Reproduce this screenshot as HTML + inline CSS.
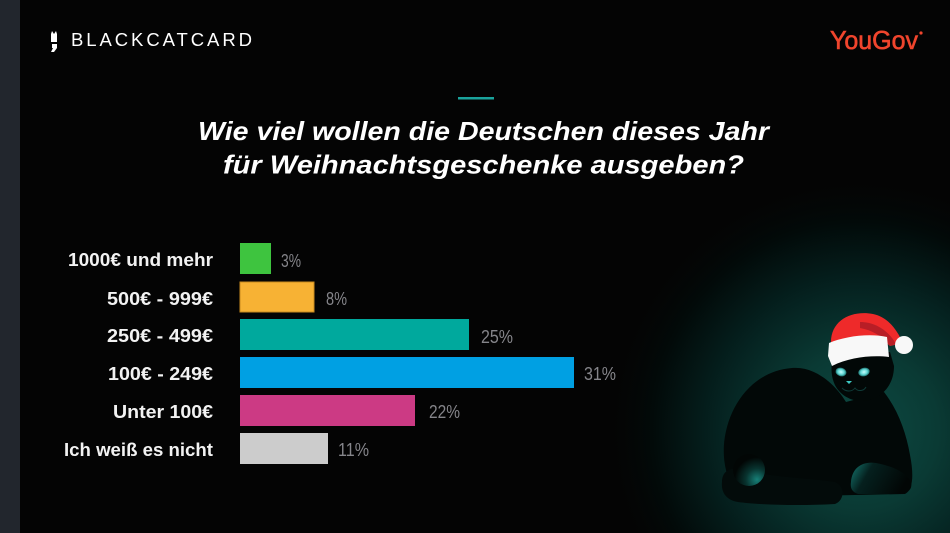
<!DOCTYPE html>
<html><head><meta charset="utf-8"><style>
html,body{margin:0;padding:0;background:#040404;}
svg{display:block;}
</style></head><body>
<svg width="950" height="533" viewBox="0 0 950 533" xmlns="http://www.w3.org/2000/svg">
<defs>
<radialGradient id="glow" cx="860" cy="430" r="260" gradientUnits="userSpaceOnUse">
<stop offset="0" stop-color="#0d4a43"/>
<stop offset="0.3" stop-color="#0a3a34"/>
<stop offset="0.55" stop-color="#052220"/>
<stop offset="0.8" stop-color="#020a09"/>
<stop offset="1" stop-color="#040404" stop-opacity="0"/>
</radialGradient>
<radialGradient id="eye" cx="0.5" cy="0.5" r="0.5">
<stop offset="0" stop-color="#c8ffff"/>
<stop offset="0.6" stop-color="#5fd6d3"/>
<stop offset="1" stop-color="#1a6b68"/>
</radialGradient>
<radialGradient id="tailg" cx="0.75" cy="0.8" r="0.7">
<stop offset="0" stop-color="#178078"/>
<stop offset="0.5" stop-color="#08332f"/>
<stop offset="1" stop-color="#020605"/>
</radialGradient>
<linearGradient id="pawg" x1="0" y1="0" x2="1" y2="0.3">
<stop offset="0" stop-color="#157a72"/>
<stop offset="0.35" stop-color="#05201e"/>
<stop offset="1" stop-color="#020605"/>
</linearGradient>
</defs>
<rect x="0" y="0" width="950" height="533" fill="#040404"/>
<rect x="0" y="0" width="950" height="533" fill="url(#glow)"/>
<rect x="0" y="0" width="20" height="533" fill="#22262d"/>

<!-- header -->
<g fill="#ffffff">
<rect x="51" y="34" width="6" height="8"/>
<polygon points="51,34 52,31 54,34"/>
<polygon points="54,34 56,31 57,34"/>
<path d="M52 44 L57 44 L57 48 L54 52 L51 52 L53 48 L52 48 Z"/>
</g>
<text x="71" y="46" font-family="Liberation Sans, sans-serif" font-size="18.5" fill="#ffffff" textLength="181" lengthAdjust="spacing">BLACKCATCARD</text>
<text x="830" y="49" font-family="Liberation Sans, sans-serif" font-size="26" fill="#f0452d" stroke="#f0452d" stroke-width="0.6" textLength="88" lengthAdjust="spacingAndGlyphs">YouGov</text>
<circle cx="921" cy="33" r="1.6" fill="#f0452d"/>

<!-- title -->
<rect x="458" y="97" width="36" height="2.5" fill="#1aa39c"/>
<g font-family="Liberation Sans, sans-serif" font-size="26" font-weight="bold" font-style="italic" fill="#ffffff">
<text x="198" y="140" textLength="571" lengthAdjust="spacingAndGlyphs">Wie viel wollen die Deutschen dieses Jahr</text>
<text x="223" y="173.5" textLength="521" lengthAdjust="spacingAndGlyphs">für Weihnachtsgeschenke ausgeben?</text>
</g>

<!-- labels -->
<g font-family="Liberation Sans, sans-serif" font-size="18" font-weight="bold" fill="#f2f2f2" text-anchor="end">
<text x="213" y="266" textLength="145" lengthAdjust="spacingAndGlyphs">1000€ und mehr</text>
<text x="213" y="305" textLength="106" lengthAdjust="spacingAndGlyphs">500€ - 999€</text>
<text x="213" y="342" textLength="106" lengthAdjust="spacingAndGlyphs">250€ - 499€</text>
<text x="213" y="380" textLength="105" lengthAdjust="spacingAndGlyphs">100€ - 249€</text>
<text x="213" y="418" textLength="100" lengthAdjust="spacingAndGlyphs">Unter 100€</text>
<text x="213" y="456" textLength="149" lengthAdjust="spacingAndGlyphs">Ich weiß es nicht</text>
</g>

<!-- bars -->
<rect x="240" y="243" width="31" height="31" fill="#3ec43f"/>
<rect x="240" y="282" width="74" height="30" fill="#f7b234" stroke="#c98a1e" stroke-width="1"/>
<rect x="240" y="319" width="229" height="31" fill="#00a99d"/>
<rect x="240" y="357" width="334" height="31" fill="#00a0e3"/>
<rect x="240" y="395" width="175" height="31" fill="#cc3a84"/>
<rect x="240" y="433" width="88" height="31" fill="#cccccc"/>

<!-- percents -->
<g font-family="Liberation Sans, sans-serif" font-size="18" fill="#85858a">
<text x="281" y="267" textLength="20" lengthAdjust="spacingAndGlyphs">3%</text>
<text x="326" y="305" textLength="21" lengthAdjust="spacingAndGlyphs">8%</text>
<text x="481" y="343" textLength="32" lengthAdjust="spacingAndGlyphs">25%</text>
<text x="584" y="380" textLength="32" lengthAdjust="spacingAndGlyphs">31%</text>
<text x="429" y="418" textLength="31" lengthAdjust="spacingAndGlyphs">22%</text>
<text x="338" y="456" textLength="31" lengthAdjust="spacingAndGlyphs">11%</text>
</g>

<!-- cat -->
<g>
<!-- body -->
<path d="M726 470 C716 430 740 372 792 368 C815 366 835 384 846 402 L884 392 C898 410 906 432 910 455 C914 475 913 490 905 494 L760 497 C742 497 730 488 726 470 Z" fill="#020807"/>
<!-- head -->
<path d="M832 362 C829 384 840 398 858 401 C878 402 894 388 894 366 L890 352 L835 352 Z" fill="#020807"/>
<!-- tail lower band -->
<path d="M722 482 C722 470 732 466 745 470 C775 478 810 478 835 482 C845 486 845 500 835 504 C800 506 760 505 738 502 C726 500 721 492 722 482 Z" fill="#030b0a"/>
<!-- tail curl -->
<ellipse cx="749" cy="470" rx="16" ry="16" fill="url(#tailg)"/>
<!-- paw -->
<path d="M851 482 C852 468 862 461 876 463 C892 466 906 472 911 482 C913 491 906 494 895 494 L858 494 C852 492 850 488 851 482 Z" fill="url(#pawg)"/>
<!-- eyes -->
<ellipse cx="841" cy="372" rx="5.5" ry="4.3" fill="url(#eye)" transform="rotate(15 841 372)"/>
<ellipse cx="864" cy="372" rx="5.8" ry="4.3" fill="url(#eye)" transform="rotate(-15 864 372)"/>
<path d="M846 381 L852 381 L849 384 Z" fill="#3ec9c4"/>
<path d="M842 388 C846 392 852 392 855 388 C858 392 864 391 866 387" stroke="#0f3a37" stroke-width="1" fill="none"/>
<!-- hat -->
<path d="M831 342 C831 320 852 310 873 314 C888 317 897 330 903 343 L890 346 C882 338 872 336 862 338 L832 348 Z" fill="#ee2a2a"/>
<path d="M860 322 C875 322 888 330 896 344 L890 346 C882 336 872 330 860 328 Z" fill="#b81e26"/>
<path d="M829 343 C845 336 870 333 887 337 L889 357 C872 355 850 357 832 366 L828 356 Z" fill="#f8f8f8"/>
<circle cx="904" cy="345" r="9" fill="#f8f8f8"/>
</g>
</svg>
</body></html>
